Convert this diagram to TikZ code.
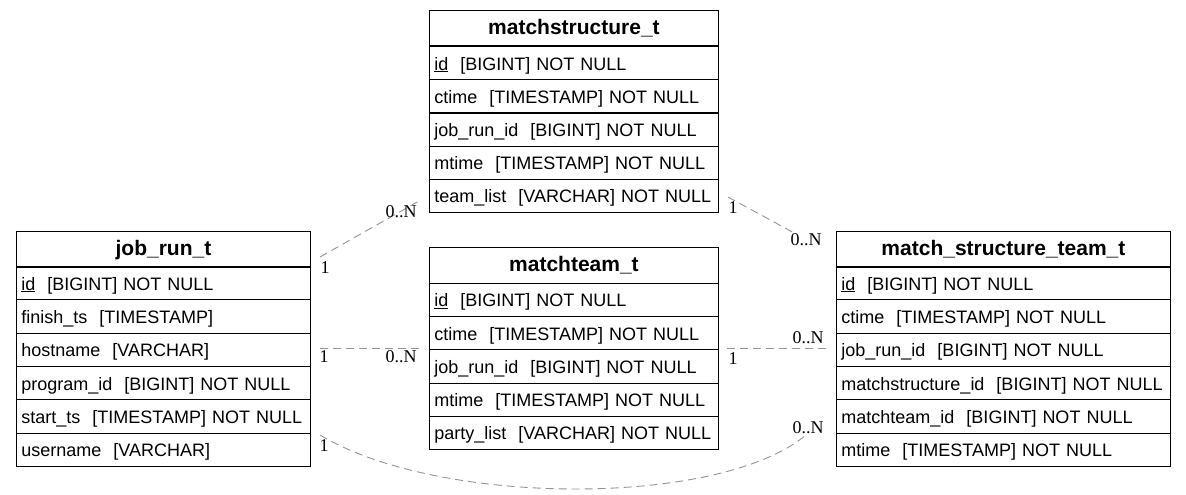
\documentclass[tikz,border=0pt]{standalone}
\usepackage{fontspec}
\setmainfont{Liberation Sans}
\newfontfamily\edgefont{Liberation Serif}
\begin{document}
\begin{tikzpicture}[x=1pt,y=-1pt,
  hdr/.style={draw, line width=0.9pt, anchor=north west, minimum height=35.5pt,
    text width=#1, align=center, inner xsep=0pt, inner ysep=0pt,
    text height=16pt, text depth=3pt, font=\fontsize{21}{24}\selectfont\bfseries},
  row/.style={draw, line width=0.9pt, anchor=north west, minimum height=33.3pt,
    text width=#1, align=left, inner xsep=5pt, inner ysep=0pt,
    text height=16.5pt, text depth=2.5pt, font=\fontsize{18}{21}\selectfont},
  rel/.style={draw=black!42, line width=0.9pt, dash pattern=on 8pt off 5pt},
  card/.style={inner sep=0pt, font=\edgefont\fontsize{18}{20}\selectfont}
]
\useasboundingbox (0,0) rectangle (1186,495);

% matchstructure_t
\node[hdr=289pt] (ms) at (429,10) {matchstructure\_t};
\node[row=279pt] (ms1) at (429,46)    {\underline{id}\ \ [BIGINT] NOT NULL};
\node[row=279pt] (ms2) at (429,79.2)  {ctime\ \ [TIMESTAMP] NOT NULL};
\node[row=279pt] (ms3) at (429,112.4) {job\_run\_id\ \ [BIGINT] NOT NULL};
\node[row=279pt] (ms4) at (429,145.6) {mtime\ \ [TIMESTAMP] NOT NULL};
\node[row=279pt] (ms5) at (429,178.8) {team\_list\ \ [VARCHAR] NOT NULL};

% job_run_t
\node[hdr=294pt] (jr) at (16,231) {job\_run\_t};
\node[row=284pt] (jr1) at (16,266)   {\underline{id}\ \ [BIGINT] NOT NULL};
\node[row=284pt] (jr2) at (16,299.3) {finish\_ts\ \ [TIMESTAMP]};
\node[row=284pt] (jr3) at (16,332.7) {hostname\ \ [VARCHAR]};
\node[row=284pt] (jr4) at (16,366)   {program\_id\ \ [BIGINT] NOT NULL};
\node[row=284pt] (jr5) at (16,399.3) {start\_ts\ \ [TIMESTAMP] NOT NULL};
\node[row=284pt] (jr6) at (16,432.7) {username\ \ [VARCHAR]};

% matchteam_t
\node[hdr=289pt] (mt) at (429,247) {matchteam\_t};
\node[row=279pt] (mt1) at (429,282.6) {\underline{id}\ \ [BIGINT] NOT NULL};
\node[row=279pt] (mt2) at (429,315.9) {ctime\ \ [TIMESTAMP] NOT NULL};
\node[row=279pt] (mt3) at (429,349.2) {job\_run\_id\ \ [BIGINT] NOT NULL};
\node[row=279pt] (mt4) at (429,382.5) {mtime\ \ [TIMESTAMP] NOT NULL};
\node[row=279pt] (mt5) at (429,415.8) {party\_list\ \ [VARCHAR] NOT NULL};

% match_structure_team_t
\node[hdr=334pt] (mst) at (836,231) {match\_structure\_team\_t};
\node[row=324pt] (mst1) at (836,266)   {\underline{id}\ \ [BIGINT] NOT NULL};
\node[row=324pt] (mst2) at (836,299.3) {ctime\ \ [TIMESTAMP] NOT NULL};
\node[row=324pt] (mst3) at (836,332.7) {job\_run\_id\ \ [BIGINT] NOT NULL};
\node[row=324pt] (mst4) at (836,366)   {matchstructure\_id\ \ [BIGINT] NOT NULL};
\node[row=324pt] (mst5) at (836,399.3) {matchteam\_id\ \ [BIGINT] NOT NULL};
\node[row=324pt] (mst6) at (836,432.7) {mtime\ \ [TIMESTAMP] NOT NULL};

% connector end points
\coordinate (e1a) at (320,257);
\coordinate (e1b) at (419,201);
\coordinate (e2a) at (320,348);
\coordinate (e2b) at (420,348);
\coordinate (e3a) at (728,197);
\coordinate (e3b) at (796,234);
\coordinate (e4a) at (727,348);
\coordinate (e4b) at (827,348);
\coordinate (e5a) at (320,435);
\coordinate (e5b) at (806,435);

\draw[rel] (e1a) -- (e1b);
\draw[rel] (e2a) -- (e2b);
\draw[rel] (e3a) -- (e3b);
\draw[rel] (e4a) -- (e4b);
\draw[rel] (e5a) .. controls (440,507) and (720,507) .. (e5b);

% cardinalities
\node[card] (c1a) at (325,268) {1};
\node[card] (c1b) at (401,212) {0..N};
\node[card] (c2a) at (324,357) {1};
\node[card] (c2b) at (401,357) {0..N};
\node[card] (c3a) at (733,208) {1};
\node[card] (c3b) at (806,240) {0..N};
\node[card] (c4a) at (733,359) {1};
\node[card] (c4b) at (808,338) {0..N};
\node[card] (c5a) at (324,446) {1};
\node[card] (c5b) at (808,428) {0..N};
\end{tikzpicture}
\end{document}
